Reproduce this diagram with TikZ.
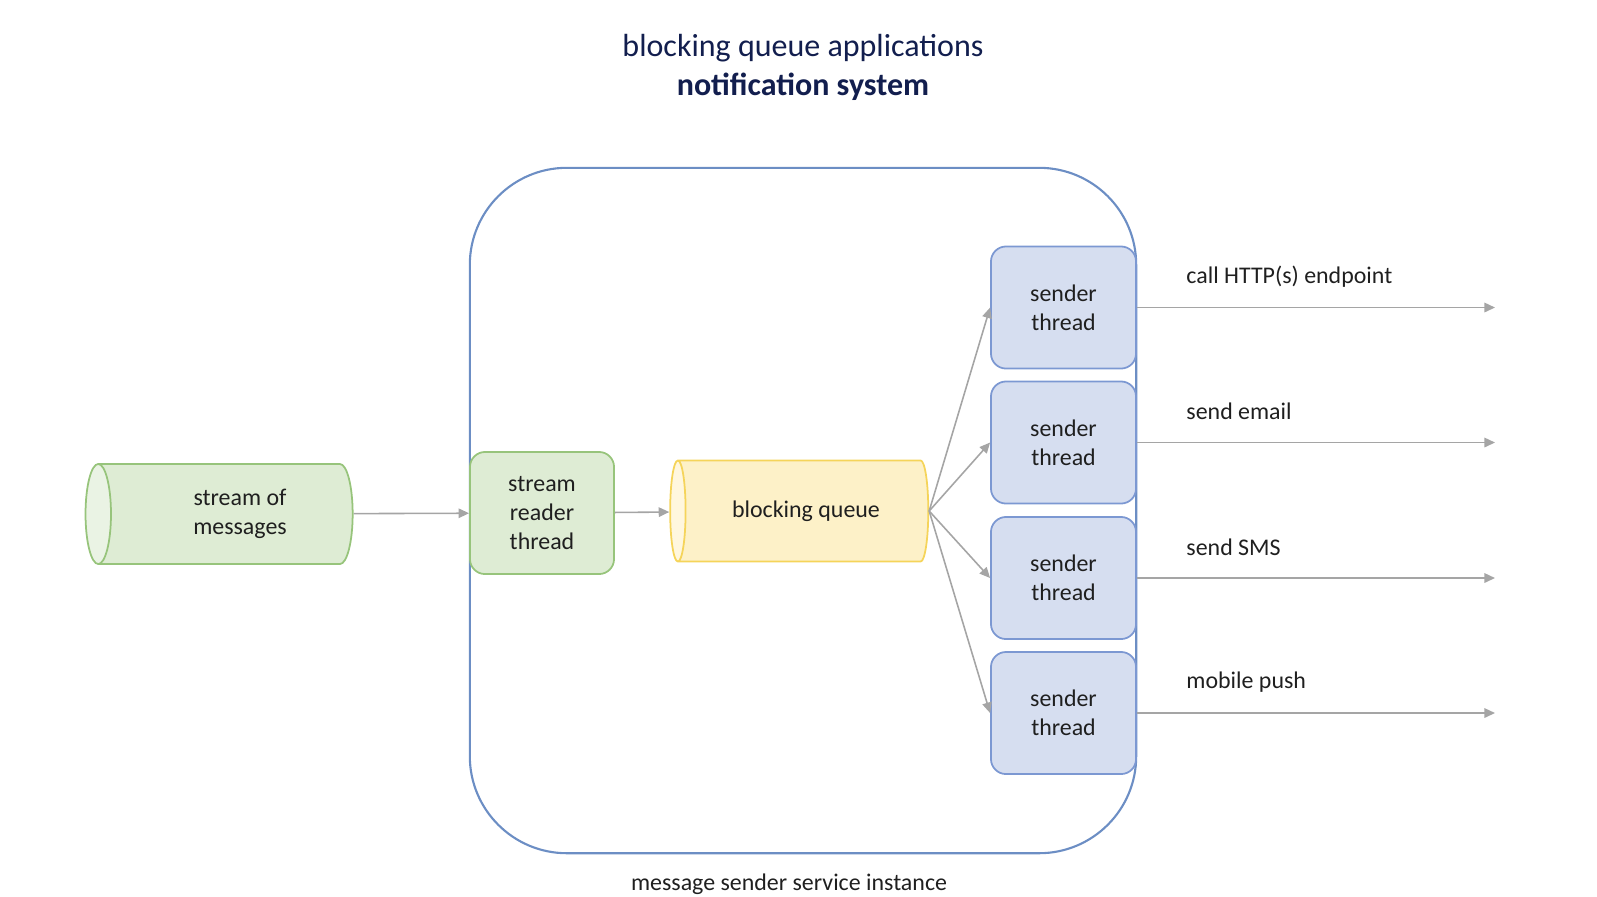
\documentclass[tikz,border=0pt]{standalone}
\usepackage{fontspec}
\setmainfont{Carlito}
\usetikzlibrary{arrows.meta, positioning, shapes.geometric}
\definecolor{TitleBlue}{RGB}{18, 30, 78}
\definecolor{FrameBlue}{RGB}{108, 142, 196}
\definecolor{GreenFill}{RGB}{222, 236, 212}
\definecolor{GreenEnd}{RGB}{234, 243, 228}
\definecolor{GreenLine}{RGB}{151, 196, 123}
\definecolor{YellowFill}{RGB}{253, 241, 200}
\definecolor{YellowEnd}{RGB}{255, 247, 222}
\definecolor{YellowLine}{RGB}{245, 212, 90}
\definecolor{SenderFill}{RGB}{214, 222, 240}
\definecolor{SenderLine}{RGB}{124, 152, 210}
\definecolor{ArrGray}{RGB}{165, 165, 165}

\begin{document}
\begin{tikzpicture}[x=0.01cm, y=-0.01cm,
  txt/.style={font=\fontsize{6.8}{8.2}\selectfont, text=black!88, align=center},
  ttl/.style={font=\fontsize{9.1}{11.1}\selectfont, text=TitleBlue, align=center},
  frame/.style={draw=FrameBlue, line width=0.6pt, rounded corners=0.97cm, minimum width=6.66cm, minimum height=6.85cm},
  tube/.style={txt, cylinder, shape border rotate=180, shape aspect=0.35, cylinder uses custom fill, line width=0.5pt},
  greentube/.style={tube, draw=GreenLine, cylinder body fill=GreenFill, cylinder end fill=GreenEnd},
  yellowtube/.style={tube, draw=YellowLine, cylinder body fill=YellowFill, cylinder end fill=YellowEnd},
  reader/.style={txt, draw=GreenLine, fill=GreenFill, rounded corners=0.15cm, line width=0.5pt, minimum width=1.44cm, minimum height=1.22cm},
  sender/.style={txt, draw=SenderLine, fill=SenderFill, rounded corners=0.15cm, line width=0.5pt, minimum width=1.45cm, minimum height=1.22cm},
  lbl/.style={txt, anchor=west},
  arr/.style={-{Triangle[length=3pt, width=2.7pt]}, ArrGray, line width=0.45pt}]
\useasboundingbox (0, 0) rectangle (1597, 896);
\node[ttl] (title) at (803, 67) {blocking queue applications\\ \textbf{notification system}};
\node[frame] (svc) at (803, 510.5) {};
\node[txt] (svclab) at (789, 884) {message sender service instance};
\node[greentube, minimum height=2.67cm, minimum width=1.0cm] (stream) at (230, 514) {\hspace*{0.2cm}stream of\\ \hspace*{0.2cm}messages};
\node[reader] (reader) at (542, 513) {stream\\ reader\\ thread};
\node[yellowtube, minimum height=2.58cm, minimum width=1.01cm] (queue) at (806, 511) {blocking queue};
\node[sender] (s1) at (1063.5, 307.5) {sender\\ thread};
\node[sender] (s2) at (1063.5, 442.5) {sender\\ thread};
\node[sender] (s3) at (1063.5, 578) {sender\\ thread};
\node[sender] (s4) at (1063.5, 713) {sender\\ thread};
\coordinate (o1) at (1495, 307.5);
\coordinate (o2) at (1495, 442.5);
\coordinate (o3) at (1495, 578);
\coordinate (o4) at (1495, 713);
\node[lbl] (l1) at (1174, 277) {call HTTP(s) endpoint};
\node[lbl] (l2) at (1174, 411) {send email};
\node[lbl] (l3) at (1174, 547) {send SMS};
\node[lbl] (l4) at (1174, 682) {mobile push};
\draw[arr] (stream) -- (reader); \draw[arr] (reader) -- (queue);
\draw[arr] (queue.east) -- (s1.west); \draw[arr] (queue.east) -- (s2.west);
\draw[arr] (queue.east) -- (s3.west); \draw[arr] (queue.east) -- (s4.west);
\draw[arr] (s1) -- (o1); \draw[arr] (s2) -- (o2); \draw[arr] (s3) -- (o3); \draw[arr] (s4) -- (o4);
\end{tikzpicture}
\end{document}
